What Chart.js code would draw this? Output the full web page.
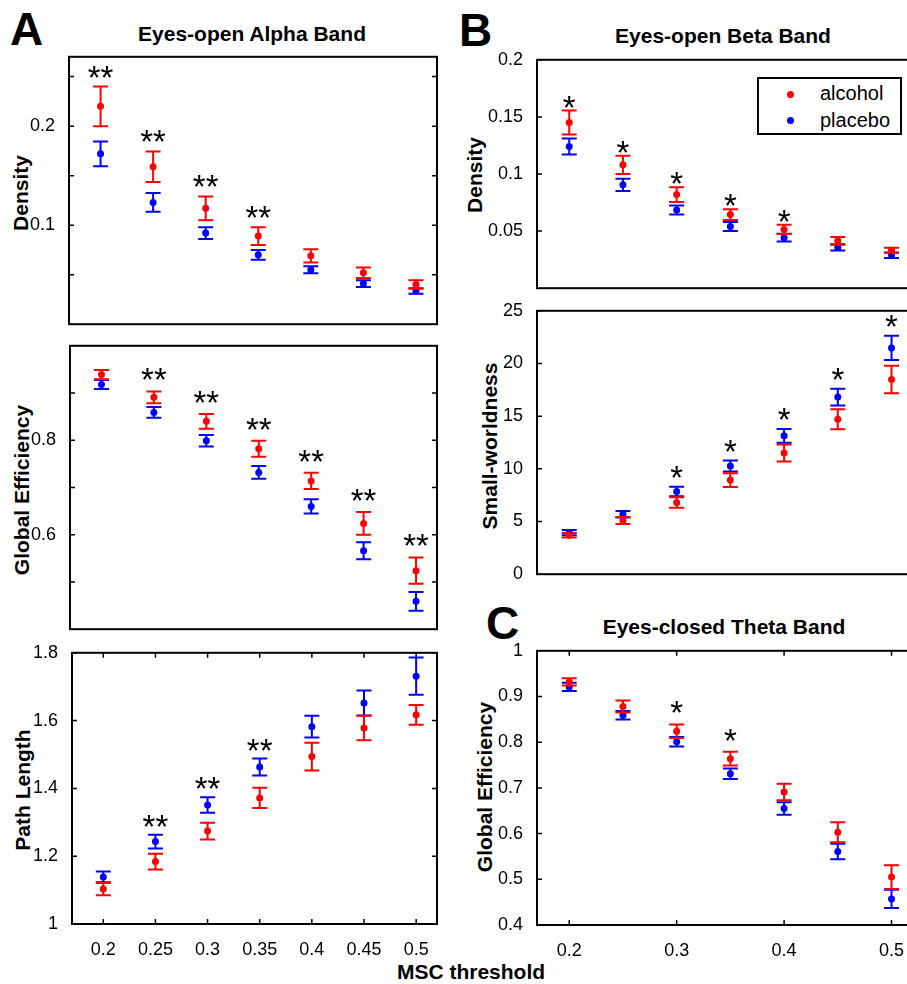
<!DOCTYPE html>
<html>
<head>
<meta charset="utf-8">
<script src="https://cdn.jsdelivr.net/npm/chart.js@4.4.1/dist/chart.umd.min.js"></script>
<style>
  html, body { margin: 0; padding: 0; background: #fff; }
  #page { position: relative; width: 907px; height: 984px; overflow: hidden; font-family: "Liberation Sans", Arial, sans-serif; color: #000; }
  #page canvas { position: absolute; }
  .txt { position: absolute; white-space: nowrap; line-height: 1; }
  .letter { font-size: 46px; font-weight: bold; }
  .title { font-size: 21px; font-weight: bold; transform: translate(-50%, -50%); }
  .ytitle { font-size: 21px; font-weight: bold; transform: translate(-50%, -50%) rotate(-90deg); }
  #legend { position: absolute; left: 757px; top: 77px; width: 145px; height: 58px; box-sizing: border-box; border: 2px solid #000; background: #fff; }
  #legend .row { position: absolute; left: 0; font-size: 20px; line-height: 1; }
  #legend .dot { position: absolute; width: 7px; height: 7px; border-radius: 50%; }
  #legend .lbl { position: absolute; left: 61px; white-space: nowrap; }
</style>
</head>
<body>
<div id="page">
  <div class="txt letter" style="left:10px;top:6px">A</div>
  <div class="txt letter" style="left:459px;top:7px">B</div>
  <div class="txt letter" style="left:486px;top:600px">C</div>

  <div class="txt title" style="left:252px;top:33px">Eyes-open Alpha Band</div>
  <div class="txt title" style="left:723px;top:35px">Eyes-open Beta Band</div>
  <div class="txt title" style="left:724px;top:626px">Eyes-closed Theta Band</div>

  <div class="txt ytitle" style="left:20px;top:193px">Density</div>
  <div class="txt ytitle" style="left:21px;top:490px">Global Efficiency</div>
  <div class="txt ytitle" style="left:22px;top:790px">Path Length</div>
  <div class="txt ytitle" style="left:474px;top:175px">Density</div>
  <div class="txt ytitle" style="left:489px;top:446px">Small-worldness</div>
  <div class="txt ytitle" style="left:484px;top:787px">Global Efficiency</div>

  <div class="txt title" style="left:471px;top:971px">MSC threshold</div>
</div>

<script>
// MSC thresholds shared by every panel
const thresholds = [0.2, 0.25, 0.3, 0.35, 0.4, 0.45, 0.5];
const seriesNames = ['alcohol', 'placebo'];
const seriesColors = ['#ff0000', '#0000ff'];

// Eyes-open alpha: density
const alphaDensityAlcohol = [0.220, 0.159, 0.117, 0.089, 0.069, 0.052, 0.040];
const alphaDensityAlcoholErr = [0.020, 0.0155, 0.012, 0.009, 0.0068, 0.0053, 0.0043];
const alphaDensityPlacebo = [0.172, 0.123, 0.092, 0.070, 0.055, 0.041, 0.0335];
const alphaDensityPlaceboErr = [0.0125, 0.0095, 0.006, 0.005, 0.0035, 0.0035, 0.0028];
const alphaDensitySig = ['**', '**', '**', '**', '', '', ''];
const alphaDensityTicks = [0.05, 0.1, 0.15, 0.2, 0.25];
const alphaDensityLabels = [0.1, 0.2];

// Eyes-open alpha: global efficiency
const alphaEffAlcohol = [0.939, 0.891, 0.840, 0.782, 0.714, 0.624, 0.524];
const alphaEffAlcoholErr = [0.010, 0.0125, 0.0155, 0.017, 0.017, 0.024, 0.028];
const alphaEffPlacebo = [0.918, 0.859, 0.799, 0.732, 0.660, 0.566, 0.459];
const alphaEffPlaceboErr = [0.0095, 0.0115, 0.012, 0.0135, 0.015, 0.018, 0.020];
const alphaEffSig = ['', '**', '**', '**', '**', '**', '**'];
const alphaEffTicks = [0.5, 0.6, 0.7, 0.8, 0.9];
const alphaEffLabels = [0.6, 0.8];

// Eyes-open alpha: path length
const alphaPathAlcohol = [1.103, 1.184, 1.274, 1.372, 1.494, 1.578, 1.617];
const alphaPathAlcoholErr = [0.018, 0.023, 0.025, 0.030, 0.041, 0.036, 0.029];
const alphaPathPlacebo = [1.139, 1.243, 1.351, 1.463, 1.582, 1.652, 1.731];
const alphaPathPlaceboErr = [0.016, 0.020, 0.023, 0.025, 0.032, 0.037, 0.055];
const alphaPathSig = ['', '**', '**', '**', '', '', ''];
const alphaPathTicks = [1, 1.2, 1.4, 1.6, 1.8];

// Eyes-open beta: density
const betaDensityAlcohol = [0.145, 0.108, 0.082, 0.0645, 0.0515, 0.0415, 0.0333];
const betaDensityAlcoholErr = [0.0105, 0.008, 0.0065, 0.0047, 0.004, 0.0034, 0.0022];
const betaDensityPlacebo = [0.124, 0.0905, 0.0685, 0.054, 0.0442, 0.0357, 0.0288];
const betaDensityPlaceboErr = [0.007, 0.0053, 0.004, 0.004, 0.0034, 0.0027, 0.0024];
const betaDensitySig = ['*', '*', '*', '*', '*', '', ''];
const betaDensityTicks = [0.05, 0.1, 0.15, 0.2];

// Eyes-open beta: small-worldness
const betaSwAlcohol = [3.70, 5.10, 6.80, 8.93, 11.50, 14.71, 18.48];
const betaSwAlcoholErr = [0.22, 0.33, 0.50, 0.65, 0.80, 0.95, 1.30];
const betaSwPlacebo = [3.95, 5.69, 7.85, 10.26, 13.13, 16.81, 21.48];
const betaSwPlaceboErr = [0.25, 0.30, 0.46, 0.52, 0.65, 0.80, 1.15];
const betaSwSig = ['', '', '*', '*', '*', '*', '*'];
const betaSwTicks = [0, 5, 10, 15, 20, 25];

// Eyes-closed theta: global efficiency
const thetaEffAlcohol = [0.932, 0.878, 0.824, 0.764, 0.691, 0.603, 0.505];
const thetaEffAlcoholErr = [0.008, 0.013, 0.015, 0.015, 0.018, 0.0217, 0.026];
const thetaEffPlacebo = [0.921, 0.859, 0.801, 0.731, 0.655, 0.561, 0.457];
const thetaEffPlaceboErr = [0.009, 0.0095, 0.0105, 0.0115, 0.0135, 0.017, 0.020];
const thetaEffSig = ['', '', '*', '*', '', '', ''];
const thetaEffTicks = [0.4, 0.5, 0.6, 0.7, 0.8, 0.9, 1];
const thetaXTicks = [0.2, 0.3, 0.4, 0.5];

const FONT = '"Liberation Sans", Arial, sans-serif';

// vertical error bars with caps, drawn just before each dataset's points
const errorBarPlugin = {
  id: 'errorBars',
  beforeDatasetDraw(chart, args) {
    const ds = chart.data.datasets[args.index];
    if (!ds.errors) return;
    const { ctx, scales: { x, y } } = chart;
    const cap = 7.5;
    ctx.save();
    ctx.strokeStyle = ds.backgroundColor;
    ctx.lineWidth = 2;
    ctx.beginPath();
    ds.data.forEach((p, i) => {
      const px = x.getPixelForValue(p.x);
      const top = y.getPixelForValue(p.y + ds.errors[i]);
      const bot = y.getPixelForValue(p.y - ds.errors[i]);
      ctx.moveTo(px, top); ctx.lineTo(px, bot);
      ctx.moveTo(px - cap, top); ctx.lineTo(px + cap, top);
      ctx.moveTo(px - cap, bot); ctx.lineTo(px + cap, bot);
    });
    ctx.stroke();
    ctx.restore();
  }
};

// significance asterisks above the highest error bar
const starPlugin = {
  id: 'stars',
  afterDatasetsDraw(chart, args, opts) {
    if (!opts.marks) return;
    const { ctx, scales: { x, y } } = chart;
    const sets = chart.data.datasets;
    ctx.save();
    ctx.font = '33px ' + FONT;
    ctx.fillStyle = '#000';
    ctx.textAlign = 'center';
    ctx.textBaseline = 'alphabetic';
    opts.marks.forEach((m, i) => {
      if (!m) return;
      const top = Math.max(...sets.map(ds => ds.data[i].y + ds.errors[i]));
      const mt = ctx.measureText(m);
      const cy = y.getPixelForValue(top) - opts.gap;
      ctx.fillText(m, x.getPixelForValue(sets[0].data[i].x),
        cy + (mt.actualBoundingBoxAscent - mt.actualBoundingBoxDescent) / 2);
    });
    ctx.restore();
  }
};

// boxed axes with inward tick marks on all sides
const framePlugin = {
  id: 'frame',
  afterDraw(chart) {
    const { ctx, chartArea: a, scales: { x, y } } = chart;
    const len = 5;
    ctx.save();
    ctx.strokeStyle = '#000';
    ctx.lineWidth = 1.5;
    ctx.beginPath();
    y.ticks.forEach(t => {
      const py = y.getPixelForValue(t.value);
      ctx.moveTo(a.left, py); ctx.lineTo(a.left + len, py);
      ctx.moveTo(a.right, py); ctx.lineTo(a.right - len, py);
    });
    if (x.options.display) {
      x.ticks.forEach(t => {
        const px = x.getPixelForValue(t.value);
        ctx.moveTo(px, a.bottom); ctx.lineTo(px, a.bottom - len);
        ctx.moveTo(px, a.top); ctx.lineTo(px, a.top + len);
      });
    }
    ctx.stroke();
    ctx.lineWidth = 2;
    ctx.strokeRect(a.left, a.top, a.right - a.left, a.bottom - a.top);
    ctx.restore();
  }
};

const panels = [
  { rect: [69, 54, 437, 327], yMin: 0, yMax: 0.27, yTicks: alphaDensityTicks, yLabels: alphaDensityLabels,
    values: [alphaDensityAlcohol, alphaDensityPlacebo], errors: [alphaDensityAlcoholErr, alphaDensityPlaceboErr],
    sig: alphaDensitySig, gap: 15 },
  { rect: [70, 343, 437, 632], yMin: 0.4, yMax: 1, yTicks: alphaEffTicks, yLabels: alphaEffLabels,
    values: [alphaEffAlcohol, alphaEffPlacebo], errors: [alphaEffAlcoholErr, alphaEffPlaceboErr],
    sig: alphaEffSig, gap: 17 },
  { rect: [72, 650, 437, 924], yMin: 1, yMax: 1.8, yTicks: alphaPathTicks, yLabels: alphaPathTicks, xTicks: thresholds,
    values: [alphaPathAlcohol, alphaPathPlacebo], errors: [alphaPathAlcoholErr, alphaPathPlaceboErr],
    sig: alphaPathSig, gap: 14 },
  { rect: [537, 57, 913, 291], yMin: 0, yMax: 0.2, yTicks: betaDensityTicks, yLabels: betaDensityTicks,
    values: [betaDensityAlcohol, betaDensityPlacebo], errors: [betaDensityAlcoholErr, betaDensityPlaceboErr],
    sig: betaDensitySig, gap: 9 },
  { rect: [537, 308, 913, 577], yMin: 0, yMax: 25, yTicks: betaSwTicks, yLabels: betaSwTicks,
    values: [betaSwAlcohol, betaSwPlacebo], errors: [betaSwAlcoholErr, betaSwPlaceboErr],
    sig: betaSwSig, gap: 15 },
  { rect: [537, 648, 913, 925], yMin: 0.4, yMax: 1, yTicks: thetaEffTicks, yLabels: thetaEffTicks, xTicks: thetaXTicks,
    values: [thetaEffAlcohol, thetaEffPlacebo], errors: [thetaEffAlcoholErr, thetaEffPlaceboErr],
    sig: thetaEffSig, gap: 17 }
];

const page = document.getElementById('page');
const tickFont = { family: FONT, size: 18 };

function makePanel(p) {
  const [l, t, r, b] = p.rect;
  const padL = 62, padR = 10, padT = 14;
  const padB = p.xTicks ? 44 : 14;
  const canvas = document.createElement('canvas');
  canvas.width = (r - l) + padL + padR;
  canvas.height = (b - t) + padT + padB;
  canvas.style.left = (l - padL) + 'px';
  canvas.style.top = (t - padT) + 'px';
  page.appendChild(canvas);

  new Chart(canvas, {
    type: 'scatter',
    data: {
      datasets: p.values.map((vals, k) => ({
        label: seriesNames[k],
        data: thresholds.map((x, i) => ({ x, y: vals[i] })),
        errors: p.errors[k],
        backgroundColor: seriesColors[k],
        pointRadius: 3.5,
        pointBorderWidth: 0
      }))
    },
    options: {
      responsive: false,
      animation: false,
      events: [],
      layout: { padding: { top: padT, right: padR, left: 0, bottom: p.xTicks ? 0 : padB } },
      plugins: {
        legend: { display: false },
        tooltip: { enabled: false },
        stars: { marks: p.sig, gap: p.gap }
      },
      scales: {
        x: {
          type: 'linear', min: 0.17, max: 0.52,
          display: !!p.xTicks,
          grid: { display: false }, border: { display: false },
          afterBuildTicks: s => { s.ticks = (p.xTicks || []).map(v => ({ value: v })); },
          afterFit: s => { if (p.xTicks) s.height = padB; },
          ticks: { autoSkip: false, maxRotation: 0, padding: 7, color: '#000', font: tickFont,
                   callback: v => String(v) }
        },
        y: {
          type: 'linear', min: p.yMin, max: p.yMax,
          grid: { display: false }, border: { display: false },
          afterBuildTicks: s => { s.ticks = p.yTicks.map(v => ({ value: v })); },
          afterFit: s => { s.width = padL; },
          ticks: { autoSkip: false, padding: 6, color: '#000', font: tickFont,
                   callback: v => p.yLabels.includes(v) ? String(v) : '' }
        }
      }
    },
    plugins: [errorBarPlugin, starPlugin, framePlugin]
  });
}

panels.forEach(makePanel);

// legend box inside the beta density panel
const legend = document.createElement('div');
legend.id = 'legend';
seriesNames.forEach((name, k) => {
  const cy = 15 + k * 26.7;
  const dot = document.createElement('span');
  dot.className = 'dot';
  dot.style.background = seriesColors[k];
  dot.style.left = (31 - 3.5) + 'px';
  dot.style.top = (cy - 3.5) + 'px';
  const lbl = document.createElement('span');
  lbl.className = 'lbl';
  lbl.style.fontSize = '20px';
  lbl.style.top = (cy - 12) + 'px';
  lbl.textContent = name;
  legend.appendChild(dot);
  legend.appendChild(lbl);
});
page.appendChild(legend);
</script>
</body>
</html>
